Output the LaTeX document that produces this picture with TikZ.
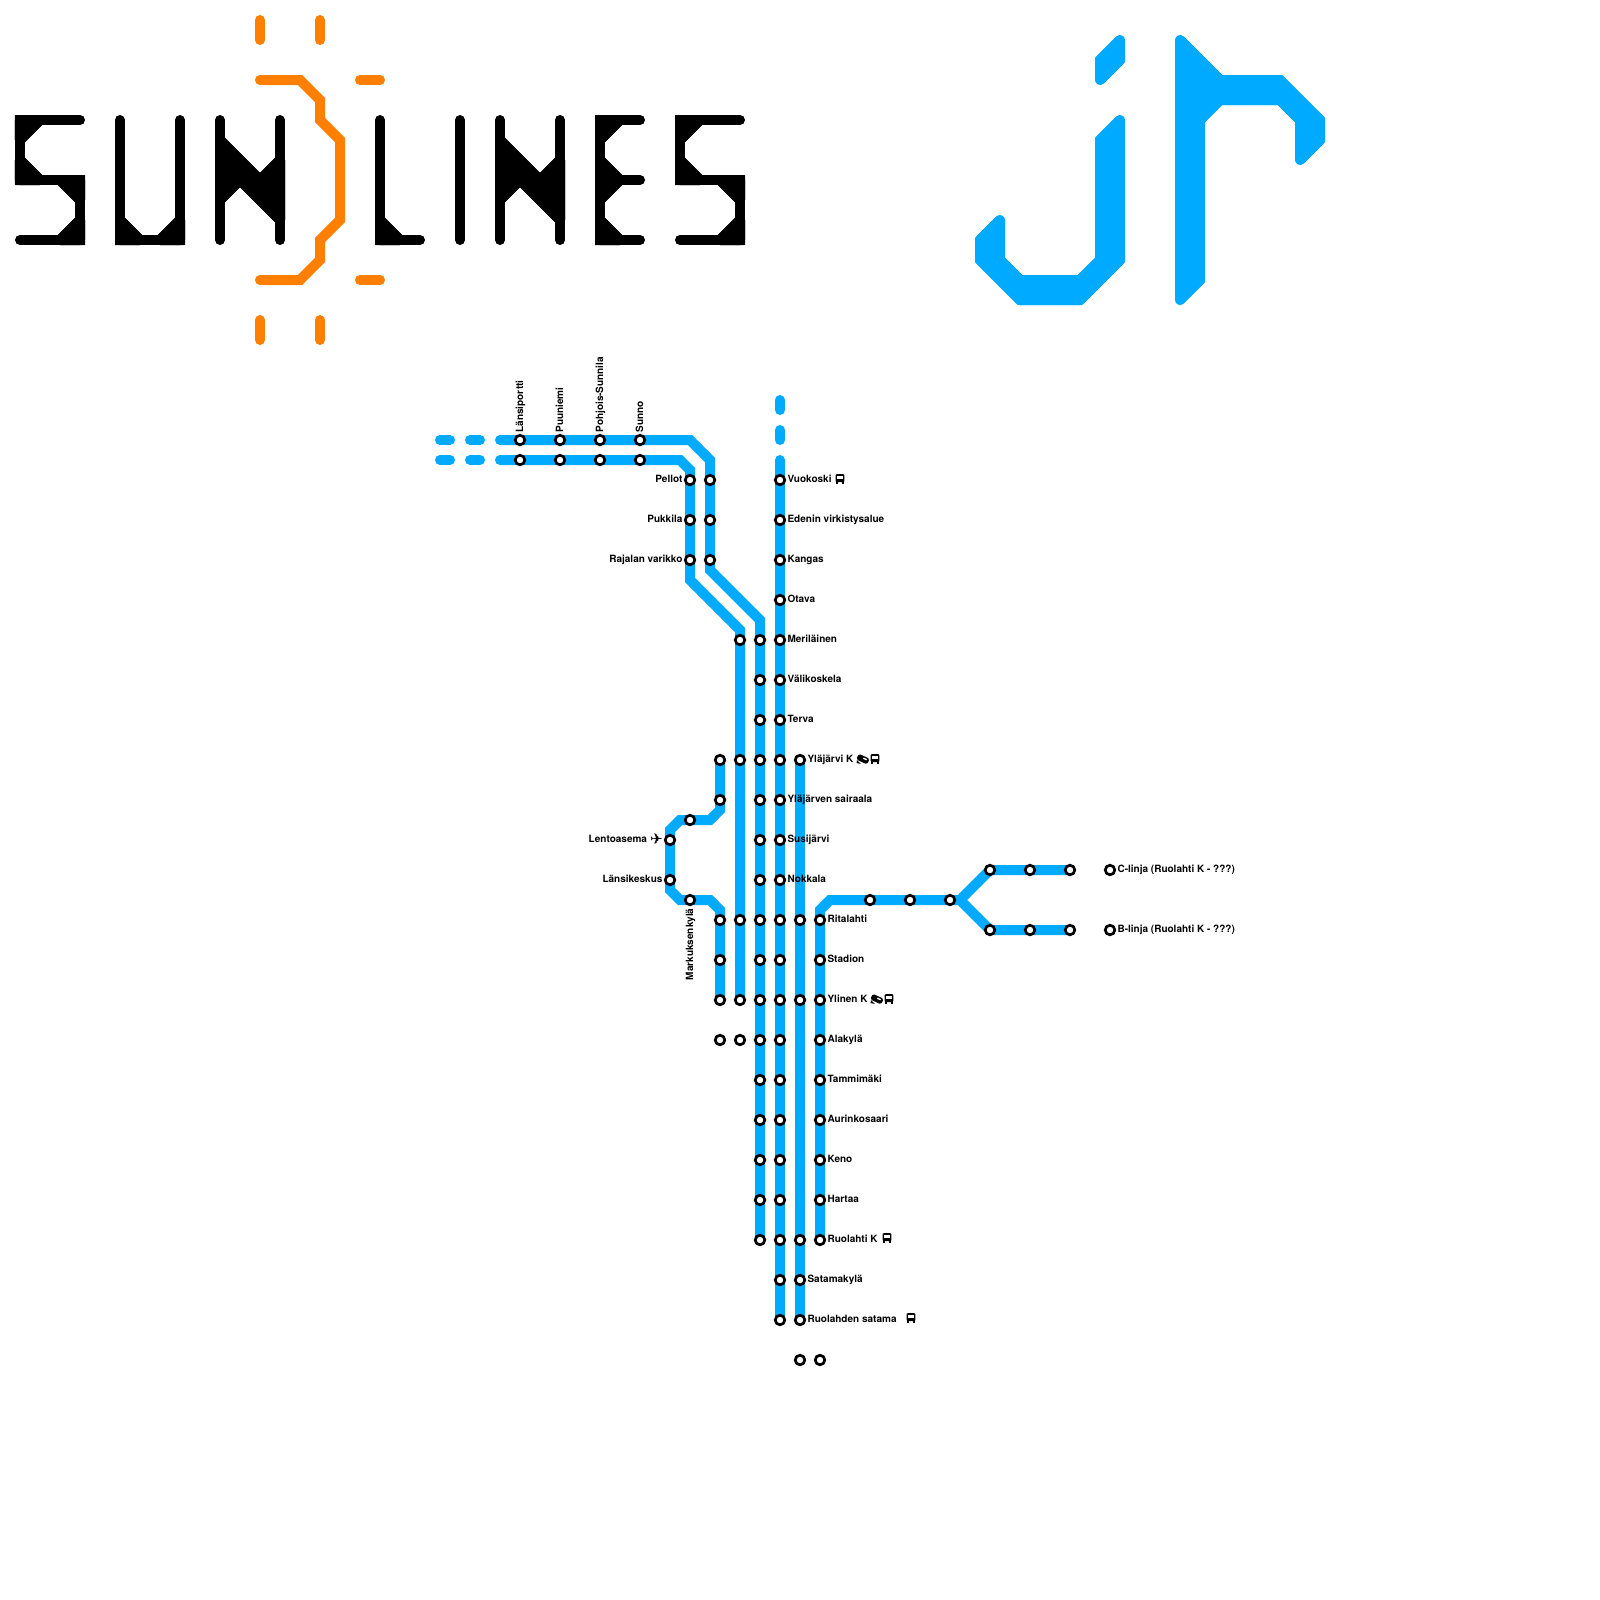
\documentclass[tikz,border=0pt]{standalone}
\usepackage{fontspec}
\setmainfont{TeX Gyre Heros}
\newfontfamily\symbolfont{DejaVu Sans}
\usetikzlibrary{backgrounds}
\definecolor{lineblue}{HTML}{00AAFF}
\definecolor{sunorange}{HTML}{FF7F00}
\tikzset{
  metro/.style={draw=lineblue, line width=3.557pt, line cap=round, line join=miter},
  sunline/.style={draw=sunorange, line width=3.557pt, line cap=round, line join=miter},
  letter/.style={draw=black, line width=3.557pt, line cap=round, line join=miter},
  letterfill/.style={draw=black, fill=black, line width=3.557pt, line join=round, preaction={draw=black, line width=3.557pt, line join=miter, miter limit=2}},
  jrfill/.style={draw=lineblue, fill=lineblue, line width=3.557pt, line join=round, preaction={draw=lineblue, line width=3.557pt, line join=miter, miter limit=2}},
  stn/.style={circle, draw=black, fill=white, line width=0.95pt, minimum size=3.4pt, inner sep=0pt, outer sep=0pt},
  lbl/.style={inner sep=0pt, font=\fontsize{3.56}{4}\selectfont\bfseries},
  lblr/.style={lbl, anchor=base west},
  lbll/.style={lbl, anchor=base east},
  lblup/.style={lbl, anchor=base west, rotate=90},
  planeicon/.style={inner sep=0pt, font=\fontsize{5.4}{6}\symbolfont},
  busicon/.pic={
    \fill[black, rounded corners=0.4pt] (-0.22,-0.24) rectangle (0.22,0.16);
    \fill[black] (-0.18,0.1) rectangle (-0.08,0.25);
    \fill[black] (0.08,0.1) rectangle (0.18,0.25);
    \fill[white] (-0.14,-0.14) rectangle (0.14,-0.01);
  },
  trainicon/.pic={
    \begin{scope}[rotate=-25]
      \fill[black, rounded corners=0.6pt] (-0.3,-0.15) rectangle (0.3,0.16);
      \fill[white] (0.0,-0.08) rectangle (0.18,-0.01);
    \end{scope}
    \fill[black] (-0.3,0.05) -- (-0.1,0.25) -- (-0.32,0.2) -- cycle;
  }
}
\begin{document}
\begin{tikzpicture}[x=0.25cm, y=-0.25cm]
  \useasboundingbox (0,0) rectangle (80,80);

  % SUN
  \draw[letter] (4,6) -- (1,6) -- (1,9) -- (4,9) -- (4,12) -- (1,12);
  \filldraw[letterfill] (1,6) -- (2,6) -- (1,7) -- cycle;
  \filldraw[letterfill] (1,8) -- (2,9) -- (1,9) -- cycle;
  \filldraw[letterfill] (3,9) -- (4,9) -- (4,10) -- cycle;
  \filldraw[letterfill] (4,11) -- (4,12) -- (3,12) -- cycle;
  \draw[letter] (6,6) -- (6,12) -- (9,12) -- (9,6);
  \filldraw[letterfill] (6,11) -- (7,12) -- (6,12) -- cycle;
  \filldraw[letterfill] (8,12) -- (9,11) -- (9,12) -- cycle;
  \draw[letter] (11,6) -- (11,12);
  \draw[letter] (14,6) -- (14,12);
  \filldraw[letterfill] (11,7) -- (13,9) -- (14,8) -- (14,11) -- (12,9) -- (11,10) -- cycle;

  % Sun rays
  \draw[sunline] (13,4) -- (15,4) -- (16,5) -- (16,6) -- (17,7) -- (17,11) -- (16,12) -- (16,13) -- (15,14) -- (13,14);
  \draw[sunline] (13,1) -- (13,2);
  \draw[sunline] (16,1) -- (16,2);
  \draw[sunline] (18,4) -- (19,4);
  \draw[sunline] (18,14) -- (19,14);
  \draw[sunline] (13,16) -- (13,17);
  \draw[sunline] (16,16) -- (16,17);

  % LINES
  \draw[letter] (19,6) -- (19,12) -- (21,12);
  \filldraw[letterfill] (19,11) -- (20,12) -- (19,12) -- cycle;
  \draw[letter] (23,6) -- (23,12);
  \draw[letter] (25,6) -- (25,12);
  \draw[letter] (28,6) -- (28,12);
  \filldraw[letterfill] (25,7) -- (27,9) -- (28,8) -- (28,11) -- (26,9) -- (25,10) -- cycle;
  \draw[letter] (32,6) -- (30,6) -- (30,12) -- (32,12);
  \draw[letter] (30,9) -- (32,9);
  \filldraw[letterfill] (30,6) -- (31,6) -- (30,7) -- cycle;
  \filldraw[letterfill] (30,8) -- (31,9) -- (30,10) -- cycle;
  \filldraw[letterfill] (30,11) -- (31,12) -- (30,12) -- cycle;
  \draw[letter] (37,6) -- (34,6) -- (34,9) -- (37,9) -- (37,12) -- (34,12);
  \filldraw[letterfill] (34,6) -- (35,6) -- (34,7) -- cycle;
  \filldraw[letterfill] (34,8) -- (35,9) -- (34,9) -- cycle;
  \filldraw[letterfill] (36,9) -- (37,9) -- (37,10) -- cycle;
  \filldraw[letterfill] (37,11) -- (37,12) -- (36,12) -- cycle;

  % jr
  \filldraw[jrfill] (55,3) -- (56,2) -- (56,3) -- (55,4) -- cycle;
  \filldraw[jrfill] (56,6) -- (56,13) -- (54,15) -- (51,15) -- (49,13) -- (49,12) -- (50,11) -- (50,13) -- (51,14) -- (54,14) -- (55,13) -- (55,7) -- cycle;
  \filldraw[jrfill] (59,2) -- (61,4) -- (64,4) -- (66,6) -- (66,7) -- (65,8) -- (65,6) -- (64,5) -- (61,5) -- (60,6) -- (60,14) -- (59,15) -- cycle;

  % West lines, stations
  \foreach \x/\txt in {26/Länsiportti, 28/Puuniemi, 30/Pohjois-Sunnila, 32/Sunno} {
    \node[stn] (u\x) at (\x,22) {};
    \node[stn] (v\x) at (\x,23) {};
    \node[lblup] (lu\x) at (\x+0.15,21.65) {\txt};
  }
  \foreach \y/\txt in {24/Pellot, 26/Pukkila, 28/Rajalan varikko} {
    \node[stn] (p\y) at (34.5,\y) {};
    \node[lbll] (lp\y) at (34.15,\y+0.12) {\txt};
  }
  \foreach \y in {24,26,28} {
    \node[stn] (q\y) at (35.5,\y) {};
  }

  % Airport branch
  \foreach \y in {38,40,46,48,50,52} {
    \node[stn] (a\y) at (36,\y) {};
  }
  \node[stn] (air1) at (34.5,41) {};
  \node[stn] (air2) at (33.5,42) {};
  \node[stn] (air3) at (33.5,44) {};
  \node[stn] (air4) at (34.5,45) {};
  \node[lbll] (lair2) at (32.38,42.12) {Lentoasema};
  \node[planeicon] (plane) at (32.82,41.95) {✈};
  \node[lbll] (lair3) at (33.15,44.12) {Länsikeskus};
  \node[lbl, anchor=base east, rotate=90] (lair4) at (34.65,45.4) {Markuksenkylä};

  % Parallel columns
  \foreach \y in {32,38,46,50,52} {
    \node[stn] (b\y) at (37,\y) {};
  }
  \foreach \y in {32,34,...,62} {
    \node[stn] (c\y) at (38,\y) {};
  }
  \foreach \y in {46,48,...,66} {
    \node[stn] (d\y) at (39,\y) {};
  }
  \foreach \y/\txt in {24/Vuokoski, 26/Edenin virkistysalue, 28/Kangas, 30/Otava, 32/Meriläinen, 34/Välikoskela, 36/Terva, 40/Yläjärven sairaala, 42/Susijärvi, 44/Nokkala} {
    \node[stn] (d\y) at (39,\y) {};
    \node[lblr] (ld\y) at (39.35,\y+0.12) {\txt};
  }
  \node[stn] (d38) at (39,38) {};
  \foreach \y in {46,50,62,68} {
    \node[stn] (e\y) at (40,\y) {};
  }
  \foreach \y/\txt in {38/Yläjärvi K, 64/Satamakylä, 66/Ruolahden satama} {
    \node[stn] (e\y) at (40,\y) {};
    \node[lblr] (le\y) at (40.35,\y+0.12) {\txt};
  }
  \foreach \y/\txt in {46/Ritalahti, 48/Stadion, 50/Ylinen K, 52/Alakylä, 54/Tammimäki, 56/Aurinkosaari, 58/Keno, 60/Hartaa, 62/Ruolahti K} {
    \node[stn] (f\y) at (41,\y) {};
    \node[lblr] (lf\y) at (41.35,\y+0.12) {\txt};
  }
  \node[stn] (f68) at (41,68) {};

  % East branches
  \foreach \x/\n in {43.5/1, 45.5/2, 47.5/3} {
    \node[stn] (g\n) at (\x,45) {};
  }
  \foreach \x/\n in {49.5/1, 51.5/2, 53.5/3, 55.5/4} {
    \node[stn] (h\n) at (\x,43.5) {};
    \node[stn] (i\n) at (\x,46.5) {};
  }
  \node[lblr] (lh) at (55.85,43.62) {C-linja (Ruolahti K - ???)};
  \node[lblr] (li) at (55.85,46.62) {B-linja (Ruolahti K - ???)};

  % Icons
  \pic at (42,23.95) {busicon};
  \pic at (43.15,37.95) {trainicon};
  \pic at (43.75,37.95) {busicon};
  \pic at (43.85,49.95) {trainicon};
  \pic at (44.45,49.95) {busicon};
  \pic at (44.35,61.9) {busicon};
  \pic at (45.55,65.9) {busicon};

  % Lines under the stations
  \begin{scope}[on background layer]
    \coordinate (ustart) at (25,22);
    \coordinate (vstart) at (25,23);
    \coordinate (ubend1) at (34.5,22);
    \coordinate (ubend2) at (35.5,23);
    \coordinate (ubend3) at (35.5,28.5);
    \coordinate (ubend4) at (38,31);
    \coordinate (vbend1) at (34,23);
    \coordinate (vbend2) at (34.5,23.5);
    \coordinate (vbend3) at (34.5,29);
    \coordinate (vbend4) at (37,31.5);
    \coordinate (dstart) at (39,23);
    \coordinate (fork) at (48,45);

    \draw[metro] (ustart) -- (ubend1) -- (ubend2) -- (ubend3) -- (ubend4) -- (c62.center);
    \draw[metro] (vstart) -- (vbend1) -- (vbend2) -- (vbend3) -- (vbend4) -- (b50.center);
    \draw[metro] (dstart) -- (d66.center);
    \draw[metro] (e38.center) -- (e66.center);

    \coordinate (abend1) at (36,40.5);
    \coordinate (abend2) at (35.5,41);
    \coordinate (abend3) at (34,41);
    \coordinate (abend4) at (33.5,41.5);
    \coordinate (abend5) at (33.5,44.5);
    \coordinate (abend6) at (34,45);
    \coordinate (abend7) at (35.5,45);
    \coordinate (abend8) at (36,45.5);
    \draw[metro] (a38.center) -- (abend1) -- (abend2) -- (abend3) -- (abend4) -- (abend5) -- (abend6) -- (abend7) -- (abend8) -- (a50.center);

    \coordinate (fbend1) at (41,45.5);
    \coordinate (fbend2) at (41.5,45);
    \draw[metro] (f62.center) -- (fbend1) -- (fbend2) -- (fork);
    \draw[metro] (fork) -- (h1.center) -- (h3.center);
    \draw[metro] (fork) -- (i1.center) -- (i3.center);

    % Dashes
    \draw[metro] (22,22) -- (22.5,22);
    \draw[metro] (23.5,22) -- (24,22);
    \draw[metro] (22,23) -- (22.5,23);
    \draw[metro] (23.5,23) -- (24,23);
    \draw[metro] (39,20) -- (39,20.5);
    \draw[metro] (39,21.5) -- (39,22);
  \end{scope}
\end{tikzpicture}
\end{document}
